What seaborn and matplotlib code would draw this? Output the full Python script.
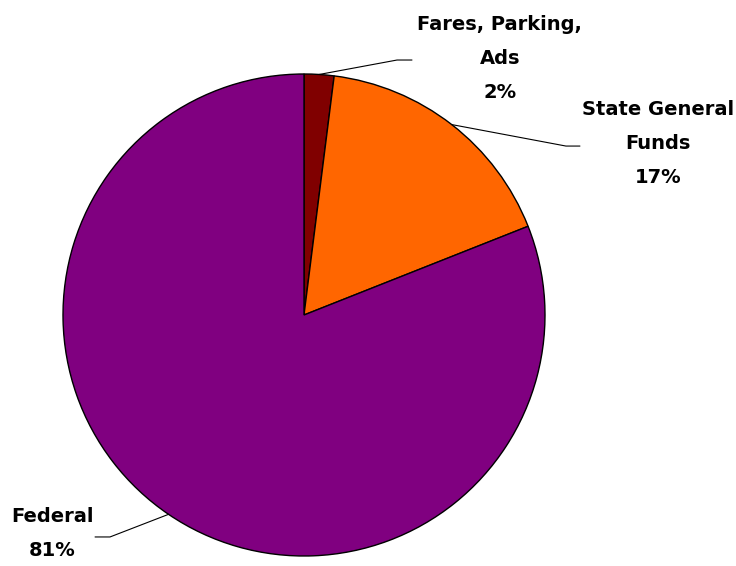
import numpy as np
import matplotlib
matplotlib.use("Agg")
import matplotlib.pyplot as plt
import seaborn as sns

# Funding sources and their shares (percent)
sources = ["Fares, Parking,\nAds", "State General\nFunds", "Federal"]
shares = [2, 17, 81]
colors = ["#800000", "#FF6600", "#800080"]

sns.set_theme(style="white")
plt.rcParams["font.family"] = ["DejaVu Sans"]

W, H = 736, 566
fig = plt.figure(figsize=(W / 100, H / 100), dpi=100)
fig.patch.set_facecolor("white")

# Pie placed with centre (304, 315) px and radius 241 px
cx, cy, r = 304, 315, 241
ax = fig.add_axes([(cx - r) / W, (H - cy - r) / H, 2 * r / W, 2 * r / H])

wedges, _ = ax.pie(
    shares,
    colors=colors,
    startangle=90,
    counterclock=False,
    radius=1.0,
    wedgeprops=dict(edgecolor="black", linewidth=1.0),
)
ax.set_xlim(-1, 1)
ax.set_ylim(-1, 1)
ax.set_aspect("auto")
ax.axis("off")

# Leader line elbows and label anchors (data units of the pie axes)
elbows = [(0.386, 1.058), (1.087, 0.701), (-0.805, -0.921)]
ends = [(0.448, 1.058), (1.145, 0.701), (-0.867, -0.921)]
label_pos = [(0.813, 1.063), (1.47, 0.71), (-1.045, -0.905)]

for w, name, val, el, en, lp in zip(wedges, sources, shares, elbows, ends, label_pos):
    mid = np.deg2rad((w.theta1 + w.theta2) / 2)
    sx, sy = np.cos(mid), np.sin(mid)
    ax.plot([sx, el[0], en[0]], [sy, el[1], en[1]], color="black",
            linewidth=0.8, clip_on=False, zorder=3)
    ax.text(lp[0], lp[1], f"{name}\n{val}%", ha="center", va="center",
            fontsize=14, fontweight="bold", color="black",
            linespacing=2.0, clip_on=False)

fig.savefig("out.png", dpi=100, facecolor="white")
